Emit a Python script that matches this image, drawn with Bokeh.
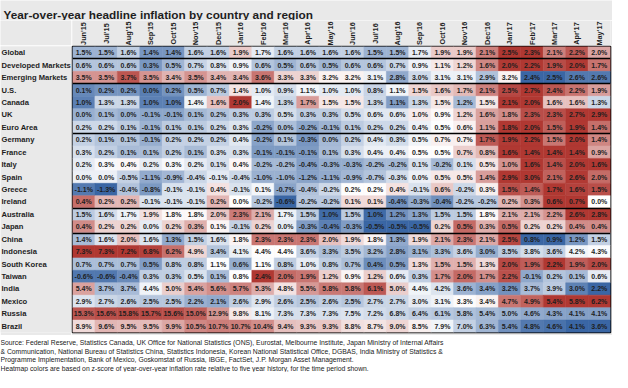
import numpy as np
from bokeh.plotting import figure
from bokeh.models import ColumnDataSource, FactorRange, LinearColorMapper, Label
from bokeh.transform import transform, dodge
from bokeh.layouts import column, row
from bokeh.embed import file_html
from bokeh.resources import INLINE
from bokeh.core.properties import value

months = ["Jun'15", "Jul'15", "Aug'15", "Sep'15", "Oct'15", "Nov'15", "Dec'15",
          "Jan'16", "Feb'16", "Mar'16", "Apr'16", "May'16", "Jun'16", "Jul'16",
          "Aug'16", "Sep'16", "Oct'16", "Nov'16", "Dec'16", "Jan'17", "Feb'17",
          "Mar'17", "Apr'17", "May'17"]

countries = ["Global", "Developed Markets", "Emerging Markets", "U.S.", "Canada", "UK",
             "Euro Area", "Germany", "France", "Italy", "Spain", "Greece", "Ireland",
             "Australia", "Japan", "China", "Indonesia", "South Korea", "Taiwan", "India",
             "Mexico", "Russia", "Brazil"]

global_ = [1.5, 1.5, 1.6, 1.4, 1.4, 1.6, 1.6, 1.9, 1.7, 1.6, 1.6, 1.6, 1.6, 1.5, 1.5, 1.7, 1.9, 1.9, 2.1, 2.5, 2.3, 2.1, 2.2, 2.0]
developed = [0.6, 0.6, 0.6, 0.3, 0.5, 0.7, 0.8, 0.9, 0.6, 0.5, 0.6, 0.5, 0.6, 0.6, 0.7, 0.9, 1.1, 1.2, 1.6, 2.0, 2.2, 1.9, 2.0, 1.7]
emerging = [3.5, 3.5, 3.7, 3.5, 3.4, 3.5, 3.4, 3.4, 3.6, 3.3, 3.3, 3.2, 3.2, 3.1, 2.8, 3.0, 3.1, 3.1, 2.9, 3.2, 2.4, 2.5, 2.6, 2.6]
us = [0.1, 0.2, 0.2, 0.0, 0.2, 0.5, 0.7, 1.4, 1.0, 0.9, 1.1, 1.0, 1.0, 0.8, 1.1, 1.5, 1.6, 1.7, 2.1, 2.5, 2.7, 2.4, 2.2, 1.9]
canada = [1.0, 1.3, 1.3, 1.0, 1.0, 1.4, 1.6, 2.0, 1.4, 1.3, 1.7, 1.5, 1.5, 1.3, 1.1, 1.3, 1.5, 1.2, 1.5, 2.1, 2.0, 1.6, 1.6, 1.3]
uk = [0.0, 0.1, 0.0, -0.1, -0.1, 0.1, 0.2, 0.3, 0.3, 0.5, 0.3, 0.3, 0.5, 0.6, 0.6, 1.0, 0.9, 1.2, 1.6, 1.8, 2.3, 2.3, 2.7, 2.9]
euro_area = [0.2, 0.2, 0.1, -0.1, 0.1, 0.1, 0.2, 0.3, -0.2, 0.0, -0.2, -0.1, 0.1, 0.2, 0.2, 0.4, 0.5, 0.6, 1.1, 1.8, 2.0, 1.5, 1.9, 1.4]
germany = [0.2, 0.1, 0.1, -0.1, 0.2, 0.2, 0.2, 0.4, -0.2, 0.1, -0.3, 0.0, 0.2, 0.4, 0.3, 0.5, 0.7, 0.7, 1.7, 1.9, 2.2, 1.5, 2.0, 1.4]
france = [0.3, 0.2, 0.1, 0.1, 0.2, 0.1, 0.3, 0.3, -0.1, -0.1, -0.1, 0.1, 0.3, 0.4, 0.4, 0.5, 0.5, 0.7, 0.8, 1.6, 1.4, 1.4, 1.4, 0.9]
italy = [0.2, 0.3, 0.4, 0.2, 0.3, 0.2, 0.1, 0.4, -0.2, -0.2, -0.4, -0.3, -0.3, -0.2, -0.2, 0.1, -0.2, 0.1, 0.5, 1.0, 1.6, 1.4, 2.0, 1.6]
spain = [0.0, 0.0, -0.5, -1.1, -0.9, -0.4, -0.1, -0.4, -1.0, -1.0, -1.2, -1.1, -0.9, -0.7, -0.3, 0.0, 0.5, 0.5, 1.4, 2.9, 3.0, 2.1, 2.6, 2.0]
greece = [-1.1, -1.3, -0.4, -0.8, -0.1, -0.1, 0.4, -0.1, 0.1, -0.7, -0.4, -0.2, 0.2, 0.2, 0.4, -0.1, 0.6, -0.2, 0.3, 1.5, 1.4, 1.7, 1.6, 1.5]
ireland = [0.4, 0.2, 0.2, -0.1, -0.1, -0.1, 0.2, 0.0, -0.2, -0.6, -0.2, -0.2, 0.1, 0.1, -0.4, -0.3, -0.4, -0.2, -0.2, 0.2, 0.3, 0.6, 0.7, 0.0]
australia = [1.5, 1.6, 1.7, 1.9, 1.8, 1.8, 2.0, 2.3, 2.1, 1.7, 1.5, 1.0, 1.5, 1.0, 1.2, 1.3, 1.5, 1.5, 1.8, 2.1, 2.1, 2.2, 2.6, 2.8]
japan = [0.4, 0.2, 0.2, 0.0, 0.2, 0.3, 0.1, -0.1, 0.2, 0.0, -0.3, -0.4, -0.3, -0.5, -0.5, -0.5, 0.2, 0.5, 0.3, 0.5, 0.2, 0.2, 0.4, 0.4]
china = [1.4, 1.6, 2.0, 1.6, 1.3, 1.5, 1.6, 1.8, 2.3, 2.3, 2.3, 2.0, 1.9, 1.8, 1.3, 1.9, 2.1, 2.3, 2.1, 2.5, 0.8, 0.9, 1.2, 1.5]
indonesia = [7.3, 7.3, 7.2, 6.8, 6.2, 4.9, 3.4, 4.1, 4.4, 4.4, 3.6, 3.3, 3.5, 3.2, 2.8, 3.1, 3.3, 3.6, 3.0, 3.5, 3.8, 3.6, 4.2, 4.3]
south_korea = [0.7, 0.7, 0.7, 0.5, 0.8, 0.8, 1.1, 0.6, 1.1, 0.8, 1.0, 0.8, 0.7, 0.4, 0.5, 1.3, 1.5, 1.5, 1.3, 2.0, 1.9, 2.2, 1.9, 2.0]
taiwan = [-0.6, -0.6, -0.4, 0.3, 0.3, 0.5, 0.1, 0.8, 2.4, 2.0, 1.9, 1.2, 0.9, 1.2, 0.6, 0.3, 1.7, 2.0, 1.7, 2.2, -0.1, 0.2, 0.1, 0.6]
india = [5.4, 3.7, 3.7, 4.4, 5.0, 5.4, 5.6, 5.7, 5.3, 4.8, 5.5, 5.8, 5.8, 6.1, 5.0, 4.4, 4.2, 3.6, 3.4, 3.2, 3.7, 3.9, 3.0, 2.2]
mexico = [2.9, 2.7, 2.6, 2.5, 2.5, 2.2, 2.1, 2.6, 2.9, 2.6, 2.5, 2.6, 2.5, 2.7, 2.7, 3.0, 3.1, 3.3, 3.4, 4.7, 4.9, 5.4, 5.8, 6.2]
russia = [15.3, 15.6, 15.8, 15.7, 15.6, 15.0, 12.9, 9.8, 8.1, 7.3, 7.3, 7.3, 7.5, 7.2, 6.8, 6.4, 6.1, 5.8, 5.4, 5.0, 4.6, 4.3, 4.1, 4.1]
brazil = [8.9, 9.6, 9.5, 9.5, 9.9, 10.5, 10.7, 10.7, 10.4, 9.4, 9.3, 9.3, 8.8, 8.7, 9.0, 8.5, 7.9, 7.0, 6.3, 5.4, 4.8, 4.6, 4.1, 3.6]

rows = [global_, developed, emerging, us, canada, uk, euro_area, germany, france, italy,
        spain, greece, ireland, australia, japan, china, indonesia, south_korea, taiwan,
        india, mexico, russia, brazil]

# last row of each bordered group
group_ends = ["Global", "Emerging Markets", "Euro Area", "Ireland", "Japan"]

title_text = "Year-over-year headline inflation by country and region"
source_lines = [
    "Source: Federal Reserve, Statistics Canada, UK Office for National Statistics (ONS), Eurostat, Melbourne Institute, Japan Ministry of Internal Affairs",
    "& Communication, National Bureau of Statistics China, Statistics Indonesia, Korean National Statistical Office, DGBAS, India Ministry of Statistics &",
    "Programme Implementation, Bank of Mexico, Goskomstat of Russia, IBGE, FactSet, J.P. Morgan Asset Management.",
    "Heatmap colors are based on z-score of year-over-year inflation rate relative to five year history, for the time period shown.",
]

FONT = "Liberation Sans"
GRAY = "#E9E9E9"
INK = "#1e1e1e"

# diverging palette blue - white - red
blue = np.array([58, 102, 164], float)
white = np.array([255, 255, 255], float)
red = np.array([176, 56, 50], float)
palette = []
for t in np.linspace(0, 1, 256):
    if t < 0.5:
        c = blue + (white - blue) * (t / 0.5)
    else:
        c = white + (red - white) * ((t - 0.5) / 0.5)
    palette.append("#%02x%02x%02x" % tuple(int(round(v)) for v in c))

xs, ys, vals, zs, labels = [], [], [], [], []
for cname, r in zip(countries, rows):
    arr = np.array(r, float)
    z = (arr - arr.mean()) / arr.std()
    for m, v, zz in zip(months, r, z):
        xs.append(m)
        ys.append(cname)
        vals.append(v)
        zs.append(float(zz))
        labels.append(f"{v:.1f}%")

src = ColumnDataSource(dict(month=xs, country=ys, value=vals, z=zs, label=labels))
mapper = LinearColorMapper(palette=palette, low=-1.8, high=1.8)


def blank(w, h, bg=GRAY, **kw):
    f = figure(width=w, height=h, output_backend="svg", toolbar_location=None, tools="",
               x_axis_location=None, y_axis_location=None,
               background_fill_color=bg, border_fill_color=bg, **kw)
    f.grid.visible = False
    f.outline_line_color = None
    return f


x_range = FactorRange(factors=months)
y_range = FactorRange(factors=countries[::-1])

# ---- heatmap grid ----
p = blank(541, 290, x_range=x_range, y_range=y_range,
          min_border_left=1, min_border_right=2, min_border_top=1, min_border_bottom=3)
p.outline_line_color = "black"
p.outline_line_width = 1.5
p.rect(x="month", y="country", width=1, height=1, source=src,
       fill_color=transform("z", mapper), line_color=transform("z", mapper), line_width=0.5)
p.text(x="month", y="country", text="label", source=src,
       text_align="center", text_baseline="middle",
       text_font=value(FONT), text_font_style="bold", text_font_size="7px",
       text_color=INK)
sep_src = ColumnDataSource(dict(yb=group_ends))
p.hspan(y=dodge("yb", -0.5, range=y_range), source=sep_src,
        line_color="black", line_width=1.5)

# ---- row labels (share the categorical y range) ----
lab = blank(71, 290, x_range=(0, 71), y_range=y_range,
            min_border_left=0, min_border_right=0, min_border_top=1, min_border_bottom=3)
row_src = ColumnDataSource(dict(country=countries, x=[1] * len(countries)))
lab.text(x="x", y="country", text="country", source=row_src,
         text_align="left", text_baseline="middle",
         text_font=value(FONT), text_font_style="bold", text_font_size="7.6px",
         text_color=INK)

# ---- column headers (share the categorical x range) ----
hdr = blank(541, 25, x_range=x_range, y_range=(0, 1),
            min_border_left=1, min_border_right=2, min_border_top=0, min_border_bottom=0)
hdr_src = ColumnDataSource(dict(month=months, y=[0.48] * len(months)))
hdr.text(x="month", y="y", text="month", source=hdr_src, angle=np.pi / 2,
         text_align="center", text_baseline="middle",
         text_font=value(FONT), text_font_style="bold", text_font_size="7.3px",
         text_color=INK)
corner = blank(71, 25, x_range=(0, 1), y_range=(0, 1), min_border=0)

# ---- title ----
ttl = blank(612, 20, x_range=(0, 1), y_range=(0, 1), min_border=0)
ttl.add_layout(Label(x=3, y=6, x_units="screen", y_units="screen",
                     text=title_text, text_font=FONT, text_font_style="bold",
                     text_font_size="11.8px", text_color=INK,
                     text_baseline="alphabetic", text_align="left"))

# ---- footer ----
foot = blank(612, 37, bg="white", x_range=(0, 1), y_range=(0, 1), min_border=0)
for i, line in enumerate(source_lines):
    foot.add_layout(Label(x=0, y=30 - 8.5 * i, x_units="screen", y_units="screen",
                          text=line, text_font=FONT, text_font_size="6.8px",
                          text_color="#222222", text_baseline="middle", text_align="left"))

layout = column(ttl, row(corner, hdr, spacing=0), row(lab, p, spacing=0), foot, spacing=0)
open("out.html", "w").write(file_html(layout, INLINE))
